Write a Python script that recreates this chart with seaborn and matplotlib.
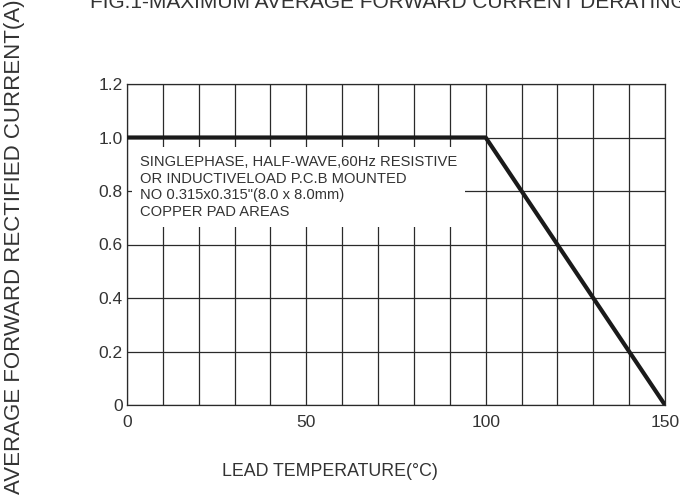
import matplotlib
matplotlib.use("Agg")
import matplotlib.pyplot as plt
import numpy as np
import pandas as pd
import seaborn as sns

# derating curve
lead_temp = [0, 100, 150]
avg_current = [1.0, 1.0, 0.0]

x_ticks = [0, 50, 100, 150]
y_ticks = [0, 0.2, 0.4, 0.6, 0.8, 1.0, 1.2]
y_tick_labels = ["0", "0.2", "0.4", "0.6", "0.8", "1.0", "1.2"]

note = ("SINGLEPHASE, HALF-WAVE,60Hz RESISTIVE\n"
        "OR INDUCTIVELOAD P.C.B MOUNTED\n"
        "NO 0.315x0.315\"(8.0 x 8.0mm)\n"
        "COPPER PAD AREAS")

sns.set_theme(style="white")
plt.rcParams["font.family"] = ["Liberation Sans", "DejaVu Sans"]

df = pd.DataFrame({"temp": lead_temp, "current": avg_current})

fig = plt.figure(figsize=(6.8, 4.97), dpi=100)
ax = fig.add_axes([127 / 680, 1 - 405 / 497, 538 / 680, 321 / 497])

sns.lineplot(data=df, x="temp", y="current", ax=ax, color="#1a1a1a",
             linewidth=3.0, zorder=5, solid_capstyle="butt")

ax.set_xlim(0, 150)
ax.set_ylim(0, 1.2)
ax.set_xticks(np.arange(0, 151, 10), minor=True)
ax.set_xticks(x_ticks)
ax.set_yticks(y_ticks)
ax.set_yticklabels(y_tick_labels)
ax.grid(True, which="both", color="#2a2a2a", linewidth=0.9)
ax.tick_params(axis="both", which="both", length=0, labelsize=12.5,
               labelcolor="#333333")
ax.tick_params(axis="x", pad=7)
ax.tick_params(axis="y", pad=3)
for s in ax.spines.values():
    s.set_color("#2a2a2a")
    s.set_linewidth(0.9)

ax.set_xlabel("")
ax.set_ylabel("")

ax.text(3.6, 0.815, note, fontsize=10.6, color="#333333", va="center", ha="left",
        linespacing=1.25, zorder=4,
        bbox=dict(boxstyle="square,pad=0.55", facecolor="white", edgecolor="none"))

fig.text(330 / 680, 1 - 471 / 497, "LEAD TEMPERATURE(\u00b0C)", fontsize=12.8,
         color="#333333", ha="center", va="center")
fig.text(15 / 680, 1 - 247 / 497, "AVERAGE FORWARD RECTIFIED CURRENT(A)", fontsize=16,
         color="#333333", ha="center", va="center", rotation=90)
fig.text(90 / 680, 1 - 8 / 497, "FIG.1-MAXIMUM AVERAGE FORWARD CURRENT DERATING CURVE",
         fontsize=15, color="#333333", ha="left", va="baseline")

fig.savefig("out.png", dpi=100)
